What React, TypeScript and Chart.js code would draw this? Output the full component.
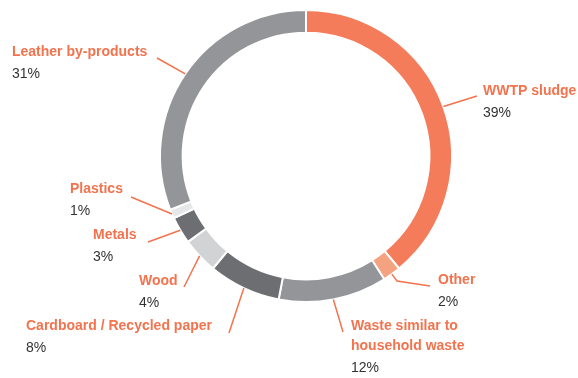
import React, { useEffect, useRef } from "react";
import { Chart, registerables } from "chart.js";

Chart.register(...registerables);

const categories = [
  "WWTP sludge",
  "Other",
  "Waste similar to household waste",
  "Cardboard / Recycled paper",
  "Wood",
  "Metals",
  "Plastics",
  "Leather by-products",
];
const values = [39, 2, 12, 8, 4, 3, 1, 31];
const percentLabels = ["39%", "2%", "12%", "8%", "4%", "3%", "1%", "31%"];
const labelLines = [
  ["WWTP sludge"],
  ["Other"],
  ["Waste similar to", "household waste"],
  ["Cardboard / Recycled paper"],
  ["Wood"],
  ["Metals"],
  ["Plastics"],
  ["Leather by-products"],
];
const colors = ["#F47C5A", "#F5A281", "#939598", "#6D6E71", "#D1D3D4", "#6D6E71", "#E6E7E8", "#939598"];

// label placement (style only): text x, first baseline, leader end point, optional elbow
const layout = [
  { x: 483, y: 95, end: [477, 96] },
  { x: 438, y: 284, end: [430, 286], elbow: [397, 281] },
  { x: 351, y: 330, end: [343, 332] },
  { x: 26, y: 330, end: [229, 333] },
  { x: 139, y: 285, end: [184, 287] },
  { x: 93, y: 239, end: [148, 242] },
  { x: 70, y: 193, end: [131, 197] },
  { x: 12, y: 56, end: [157, 58] },
];

const ORANGE = "#F2734E";
const DARK = "#333333";

const labelPlugin = {
  id: "outerLabels",
  afterDraw(chart: any) {
    const ctx = chart.ctx;
    const meta = chart.getDatasetMeta(0);
    ctx.save();
    meta.data.forEach((arc: any, i: number) => {
      const p = arc.getProps(["x", "y", "startAngle", "endAngle", "outerRadius"], true);
      const mid = (p.startAngle + p.endAngle) / 2;
      const r = p.outerRadius;
      const sx = p.x + Math.cos(mid) * r;
      const sy = p.y + Math.sin(mid) * r;
      const L = layout[i];
      ctx.strokeStyle = ORANGE;
      ctx.lineWidth = 1.5;
      ctx.beginPath();
      ctx.moveTo(sx, sy);
      if (L.elbow) ctx.lineTo(L.elbow[0], L.elbow[1]);
      ctx.lineTo(L.end[0], L.end[1]);
      ctx.stroke();

      ctx.textAlign = "left";
      ctx.textBaseline = "alphabetic";
      ctx.fillStyle = ORANGE;
      ctx.font = "bold 14px 'Liberation Sans', Arial, sans-serif";
      const lines = labelLines[i];
      lines.forEach((t, k) => ctx.fillText(t, L.x, L.y + k * 20));
      ctx.fillStyle = DARK;
      ctx.font = "14px 'Liberation Sans', Arial, sans-serif";
      ctx.fillText(percentLabels[i], L.x, L.y + (lines.length - 1) * 20 + 22);
    });
    ctx.restore();
  },
};

export default function App() {
  const ref = useRef<HTMLCanvasElement | null>(null);
  useEffect(() => {
    if (!ref.current) return;
    const chart = new Chart(ref.current, {
      type: "doughnut",
      data: {
        labels: categories,
        datasets: [
          {
            data: values,
            backgroundColor: colors,
            borderColor: "#ffffff",
            borderWidth: 2,
            hoverOffset: 0,
          },
        ],
      },
      options: {
        responsive: false,
        animation: false,
        cutout: "84.5%",
        layout: { padding: { left: 159, right: 125, top: 9, bottom: 75 } },
        plugins: { legend: { display: false }, tooltip: { enabled: false } },
      },
      plugins: [labelPlugin],
    });
    return () => chart.destroy();
  }, []);
  return (
    <div style={{ position: "absolute", left: 0, top: 0, width: 578, height: 378, background: "#fff" }}>
      <canvas ref={ref} width={578} height={378} style={{ width: 578, height: 378 }} />
    </div>
  );
}
